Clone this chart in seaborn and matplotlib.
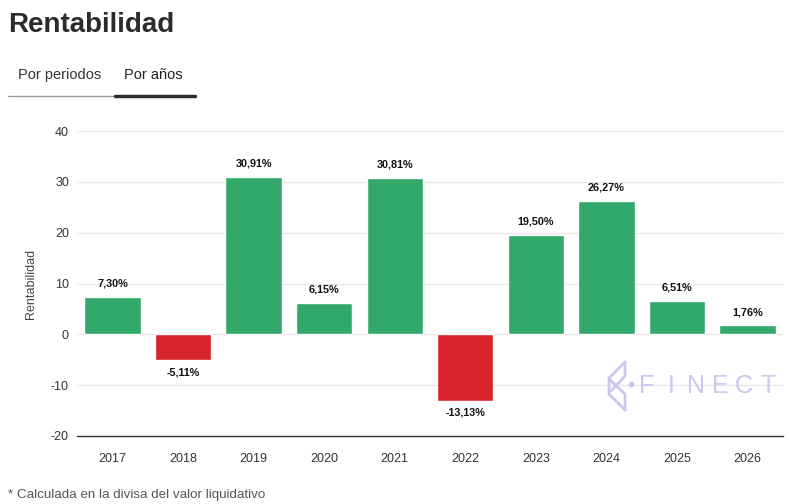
import numpy as np
import pandas as pd
import matplotlib
matplotlib.use("Agg")
import matplotlib.pyplot as plt
import seaborn as sns

# datos
years = ["2017", "2018", "2019", "2020", "2021", "2022", "2023", "2024", "2025", "2026"]
returns = [7.30, -5.11, 30.91, 6.15, 30.81, -13.13, 19.50, 26.27, 6.51, 1.76]

df = pd.DataFrame({"year": years, "ret": returns})
df["signo"] = np.where(df["ret"] >= 0, "pos", "neg")

sns.set_theme(style="white")
plt.rcParams["font.family"] = ["Liberation Sans", "DejaVu Sans"]
plt.rcParams["axes.unicode_minus"] = False

W, H = 789, 504
fig = plt.figure(figsize=(W / 100, H / 100), dpi=100)
ax = fig.add_axes([0.098, 0.135, 0.894, 0.605])

ax.set_ylim(-20, 40)
ax.set_yticks([-20, -10, 0, 10, 20, 30, 40])
ax.yaxis.grid(True, color="#e6e6e6", linewidth=0.9)
ax.set_axisbelow(True)

sns.barplot(data=df, x="year", y="ret", hue="signo",
            palette={"pos": "#33a86b", "neg": "#d8232a"},
            width=0.8, dodge=False, legend=False, ax=ax, saturation=1)

# etiquetas de valor
for i, v in enumerate(returns):
    txt = f"{v:.2f}%".replace(".", ",")
    if v >= 0:
        ax.annotate(txt, (i, v), xytext=(0, 6), textcoords="offset points",
                    ha="center", va="bottom", fontsize=7.8, fontweight="bold", color="#111111")
    else:
        ax.annotate(txt, (i, v), xytext=(0, -5), textcoords="offset points",
                    ha="center", va="top", fontsize=7.8, fontweight="bold", color="#111111")

ax.set_xlabel("")
ax.set_ylabel("Rentabilidad", fontsize=9, color="#444444", labelpad=10)
ax.tick_params(axis="both", labelsize=9, colors="#333333", length=0, pad=6)
ax.tick_params(axis="x", pad=12)
for s in ax.spines.values():
    s.set_visible(False)
ax.spines["bottom"].set_visible(True)
ax.spines["bottom"].set_color("#333333")
ax.spines["bottom"].set_linewidth(1)

# marca de agua (logo + texto)
wm = "#cbc7ef"
def px(x, y):
    return x / W, 1 - y / H
logo = [[(625, 362), (609, 378), (609, 394), (625, 410)],
        [(625, 362), (625, 376), (611, 391)],
        [(609, 379), (625, 394), (625, 410)]]
for seg in logo:
    xs, ys = zip(*[px(*p) for p in seg])
    fig.add_artist(plt.Line2D(xs, ys, color=wm, linewidth=2))
fx, fy = px(631, 384)
fig.add_artist(plt.Line2D([fx], [fy], marker="o", markersize=3, color=wm))
for k, ch in enumerate("FINECT"):
    cx, cy = px(647 + k * 24.3, 386)
    fig.text(cx, cy, ch, fontsize=18, color=wm, ha="center", va="center")

# título y pestañas
fig.text(0.010, 0.977, "Rentabilidad", fontsize=20, fontweight="bold", color="#2b2b2b", va="top")
fig.text(0.023, 0.851, "Por periodos", fontsize=10.5, color="#333333", va="center")
fig.text(0.157, 0.851, "Por años", fontsize=10.5, color="#222222", va="center")
fig.add_artist(plt.Line2D([0.010, 0.146], [0.810, 0.810], color="#999999", linewidth=1))
fig.add_artist(plt.Line2D([0.146, 0.247], [0.810, 0.810], color="#2b2b2b", linewidth=2.5))

fig.text(0.010, 0.012, "* Calculada en la divisa del valor liquidativo", fontsize=9.6, color="#555555")

fig.savefig("out.png", dpi=100)
